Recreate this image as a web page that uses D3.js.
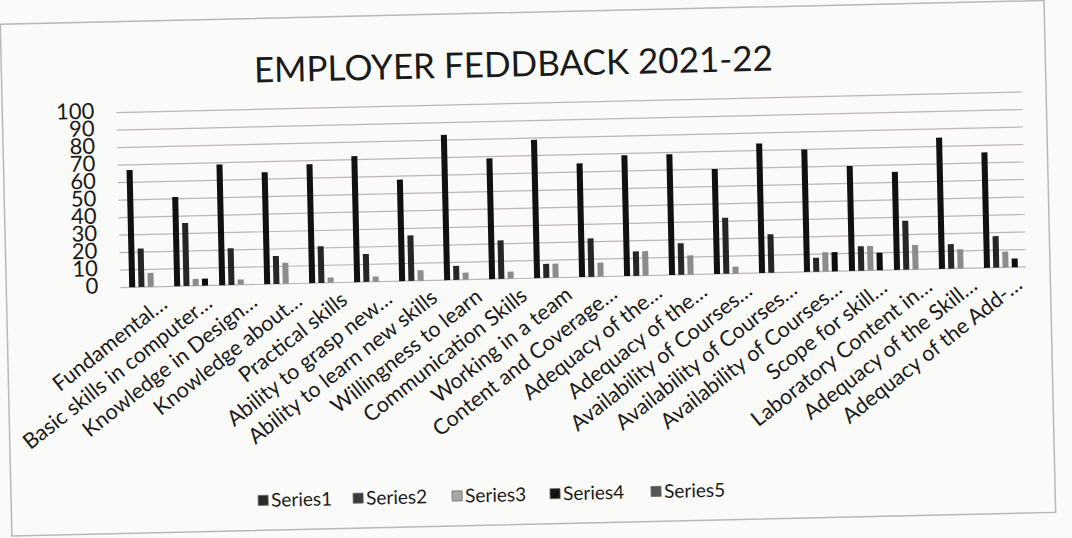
<!DOCTYPE html>
<meta charset="UTF-8">
<style>
body { margin: 0; background: #fafaf8; }
text { font-family: Lato, "Open Sans", sans-serif; fill: #1a1a1a; }
.grid line { stroke: #bdb6b6; stroke-width: 1.2px; }
.frame { fill: none; stroke: #b8b8b8; stroke-width: 1.5px; }
</style>
<body>
<script src="https://cdnjs.cloudflare.com/ajax/libs/d3/7.8.5/d3.min.js"></script>
<script>

var categories = [
  "Fundamental…", "Basic skills in computer…", "Knowledge in Design…", "Knowledge about…",
  "Practical skills", "Ability to grasp new…", "Ability to learn new skills", "Willingness to learn",
  "Communication Skills", "Working in a team", "Content and Coverage…", "Adequacy of the…",
  "Adequacy of the…", "Availability of Courses…", "Availability of Courses…", "Availability of Courses…",
  "Scope for skill…", "Laboratory Content in…", "Adequacy of the Skill…", "Adequacy of the Add-…"
];

var series1 = [67, 51, 69, 64, 68, 72, 58, 83, 69, 79, 65, 69, 69, 60, 74, 70, 60, 56, 75, 66];
var series2 = [22, 36, 21, 16, 21, 16, 26, 8, 22, 8, 22, 14, 18, 32, 22, 8, 14, 28, 14, 18];
var series3 = [8, 4, 3, 12, 3, 3, 6, 4, 4, 8, 8, 14, 11, 4, 0, 11, 14, 14, 11, 9];
var series4 = [0, 4, 0, 0, 0, 0, 0, 0, 0, 0, 0, 0, 0, 0, 0, 11, 10, 0, 0, 5];
var series5 = [0, 0, 0, 0, 0, 0, 0, 0, 0, 0, 0, 0, 0, 0, 0, 0, 0, 0, 0, 0];

var seriesNames = ["Series1", "Series2", "Series3", "Series4", "Series5"];
var yTicks = [0, 10, 20, 30, 40, 50, 60, 70, 80, 90, 100];

var allSeries = [series1, series2, series3, series4, series5];
var barColors = ["#111", "#262626", "#8c8c8c", "#0d0d0d", "#4a4a4a"];
var keyColors = ["#2a2a2a", "#3a3a3a", "#a8a8a8", "#111", "#555"];

var width = 1072, height = 538;
var plot = {left: 128, right: 1028, top: 103, bottom: 278};

var svg = d3.select("body").append("svg")
    .attr("width", width)
    .attr("height", height);

// the photo is slightly tilted
var g = svg.append("g")
    .attr("transform", "rotate(-1.3, 540, 270)");

g.append("rect")
    .attr("class", "frame")
    .attr("x", 6).attr("y", 12)
    .attr("width", 1044).attr("height", 512);

var idx = d3.range(categories.length);

var x0 = d3.scaleBand()
    .domain(idx)
    .range([plot.left, plot.right])
    .padding(0);

var x1 = d3.scaleBand()
    .domain(seriesNames)
    .range([0, x0.bandwidth()])
    .paddingInner(0.35)
    .paddingOuter(0.1);

var y = d3.scaleLinear()
    .domain([0, 100])
    .range([plot.bottom, plot.top]);

// gridlines
g.append("g")
    .attr("class", "grid")
    .selectAll("line")
    .data(yTicks)
  .enter().append("line")
    .attr("x1", plot.left - 8)
    .attr("x2", plot.right - 2)
    .attr("y1", function(d) { return y(d); })
    .attr("y2", function(d) { return y(d); });

// y axis labels
var yAxis = d3.axisLeft(y).tickValues(yTicks).tickSize(0).tickPadding(0);
g.append("g")
    .attr("transform", "translate(" + (plot.left - 30) + ",-2)")
    .call(yAxis)
    .call(function(a) { a.select(".domain").remove(); })
    .selectAll("text")
    .style("font-size", "22px")
    .style("fill", "#1a1a1a");

// bars
var groups = g.append("g")
    .selectAll("g")
    .data(idx)
  .enter().append("g")
    .attr("transform", function(i) { return "translate(" + x0(i) + ",0)"; });

groups.selectAll("rect")
    .data(function(i) {
      return seriesNames.map(function(s, k) { return {s: s, k: k, v: allSeries[k][i]}; });
    })
  .enter().append("rect")
    .attr("x", function(d) { return x1(d.s); })
    .attr("width", x1.bandwidth())
    .attr("y", function(d) { return y(d.v); })
    .attr("height", function(d) { return y(0) - y(d.v); })
    .attr("fill", function(d) { return barColors[d.k]; });

// category labels
g.append("g")
    .selectAll("text")
    .data(idx)
  .enter().append("text")
    .attr("text-anchor", "end")
    .attr("dy", "0.35em")
    .style("font-size", "21.5px")
    .attr("transform", function(i) {
      return "translate(" + (x0(i) + x0.bandwidth() / 2 + 13) + "," + (plot.bottom + 14) + ") rotate(-37)";
    })
    .text(function(i) { return categories[i]; });

// title
g.append("text")
    .attr("x", 518)
    .attr("y", 76)
    .attr("text-anchor", "middle")
    .style("font-size", "35px")
    .text("EMPLOYER FEDDBACK 2021-22");

// legend
var legendX = [253, 348, 447, 545, 646];
var legend = g.append("g")
    .selectAll("g")
    .data(seriesNames)
  .enter().append("g")
    .attr("transform", function(d, k) { return "translate(" + legendX[k] + ",494)"; });

legend.append("rect")
    .attr("x", 0).attr("y", -5)
    .attr("width", 10).attr("height", 10)
    .attr("fill", function(d, k) { return keyColors[k]; })
    .attr("stroke", "#666").attr("stroke-width", 0.8);

legend.append("text")
    .attr("x", 13)
    .attr("dy", "0.35em")
    .style("font-size", "19px")
    .text(function(d) { return d; });

</script>
</body>
